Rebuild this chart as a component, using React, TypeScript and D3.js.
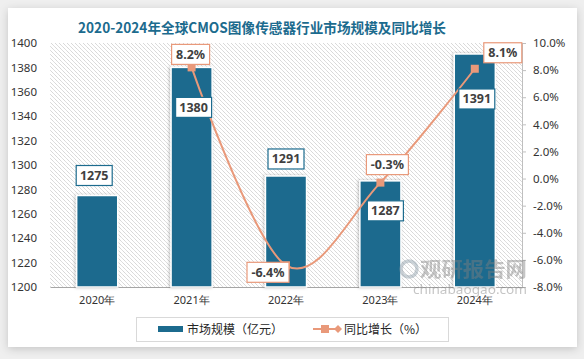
import React, { useEffect, useRef } from 'react'
import * as d3 from 'd3'

const years = ['2020年', '2021年', '2022年', '2023年', '2024年']
const marketSize = [1275, 1380, 1291, 1287, 1391]
const growth: (number | null)[] = [null, 8.2, -6.4, -0.3, 8.1]
const growthLabels = ['', '8.2%', '-6.4%', '-0.3%', '8.1%']
const leftTicks = [1200, 1220, 1240, 1260, 1280, 1300, 1320, 1340, 1360, 1380, 1400]
const rightTicks = [-8, -6, -4, -2, 0, 2, 4, 6, 8, 10]

// label nudges (layout only)
const sizeLabelShift = [
  [-3, -20],
  [2, 40],
  [0, -17],
  [5, 30],
  [2, 45],
]
const growthLabelShift = [
  [0, 0],
  [-1, -13],
  [-18, 7],
  [7, -18],
  [28, -16],
]

const BLUE = '#1c6b8e'
const ORANGE = '#e9997a'

const App: React.FC = () => {
  const svgRef = useRef<SVGSVGElement>(null)

  useEffect(() => {
    if (!svgRef.current) return
    const width = 584
    const height = 359
    const plot = { left: 50, right: 522, top: 43, bottom: 287 }

    const svg = d3.select(svgRef.current)
    svg.selectAll('*').remove()
    svg.attr('width', width).attr('height', height)

    const defs = svg.append('defs')
    const pat = defs
      .append('pattern')
      .attr('id', 'hatch')
      .attr('patternUnits', 'userSpaceOnUse')
      .attr('width', 4)
      .attr('height', 4)
    pat
      .append('path')
      .attr('d', 'M-1,-1 l2,2 M0,0 l4,4 M3,3 l2,2')
      .attr('stroke', '#d6d6d6')
      .attr('stroke-width', 0.8)
    const shadow = defs.append('filter').attr('id', 'cardShadow').attr('x', '-5%').attr('y', '-5%').attr('width', '110%').attr('height', '115%')
    shadow.append('feDropShadow').attr('dx', 0).attr('dy', 2).attr('stdDeviation', 4).attr('flood-color', '#000').attr('flood-opacity', 0.18)
    const barShadow = defs.append('filter').attr('id', 'barShadow').attr('x', '-20%').attr('y', '-10%').attr('width', '140%').attr('height', '120%')
    barShadow.append('feDropShadow').attr('dx', -1).attr('dy', 0).attr('stdDeviation', 1.5).attr('flood-color', '#000').attr('flood-opacity', 0.25)

    // page + card
    svg.append('rect').attr('width', width).attr('height', height).attr('fill', '#efefef')
    svg
      .append('rect')
      .attr('x', 8)
      .attr('y', 8)
      .attr('width', 569)
      .attr('height', 339)
      .attr('fill', '#fff')
      .attr('filter', 'url(#cardShadow)')

    // title
    svg
      .append('text')
      .attr('x', 262)
      .attr('y', 33)
      .attr('text-anchor', 'middle')
      .attr('fill', BLUE)
      .attr('font-family', '"Noto Sans CJK SC", sans-serif')
      .attr('font-weight', 'bold')
      .attr('font-size', 14)
      .attr('textLength', 368)
      .attr('lengthAdjust', 'spacingAndGlyphs')
      .text('2020-2024年全球CMOS图像传感器行业市场规模及同比增长')

    const x = d3.scaleBand<string>().domain(years).range([plot.left, plot.right]).paddingInner(0.565).paddingOuter(0.2825)
    const yLeft = d3.scaleLinear().domain([1200, 1400]).range([plot.bottom, plot.top])
    const yRight = d3.scaleLinear().domain([-8, 10]).range([plot.bottom, plot.top])
    const cx = (i: number) => (x(years[i]) ?? 0) + x.bandwidth() / 2

    // hatched plot area
    svg
      .append('rect')
      .attr('x', plot.left)
      .attr('y', plot.top)
      .attr('width', plot.right - plot.left)
      .attr('height', plot.bottom - plot.top)
      .attr('fill', 'url(#hatch)')

    const font = '"Noto Sans", "DejaVu Sans", sans-serif'

    // left axis
    svg
      .append('g')
      .attr('transform', `translate(${plot.left},0)`)
      .call(d3.axisLeft(yLeft).tickValues(leftTicks).tickSize(0).tickPadding(13).tickFormat((d) => String(d)))
      .call((g) => g.select('.domain').remove())
      .call((g) =>
        g.selectAll('text').attr('fill', '#333').attr('font-size', 11.5).attr('font-family', font),
      )

    // right axis
    svg
      .append('g')
      .attr('transform', `translate(${plot.right},0)`)
      .call(
        d3
          .axisRight(yRight)
          .tickValues(rightTicks)
          .tickSize(4)
          .tickPadding(7)
          .tickSizeOuter(4)
          .tickFormat((d) => `${(d as number).toFixed(1)}%`),
      )
      .call((g) => g.select('.domain').attr('stroke', '#bfbfbf'))
      .call((g) => g.selectAll('.tick line').attr('stroke', '#bfbfbf'))
      .call((g) =>
        g.selectAll('text').attr('fill', '#333').attr('font-size', 11.5).attr('font-family', font),
      )

    // bottom axis
    svg
      .append('g')
      .attr('transform', `translate(0,${plot.bottom})`)
      .call(d3.axisBottom(x).tickSize(0).tickPadding(9))
      .call((g) => g.select('.domain').attr('stroke', '#a6a6a6'))
      .call((g) =>
        g.selectAll('text').attr('fill', '#333').attr('font-size', 11).attr('font-family', font),
      )

    // bars
    svg
      .append('g')
      .selectAll('rect')
      .data(marketSize)
      .join('rect')
      .attr('x', (_, i) => x(years[i]) ?? 0)
      .attr('y', (d) => yLeft(d))
      .attr('width', x.bandwidth())
      .attr('height', (d) => plot.bottom - yLeft(d))
      .attr('fill', BLUE)
      .attr('stroke', '#fff')
      .attr('stroke-width', 1.5)
      .attr('filter', 'url(#barShadow)')

    // growth line
    const pts = growth
      .map((v, i) => ({ v, i }))
      .filter((d) => d.v !== null) as { v: number; i: number }[]
    const line = d3
      .line<{ v: number; i: number }>()
      .x((d) => cx(d.i))
      .y((d) => yRight(d.v))
      .curve(d3.curveCardinal.tension(0))
    svg
      .append('path')
      .attr('d', line(pts))
      .attr('fill', 'none')
      .attr('stroke', ORANGE)
      .attr('stroke-width', 2)
    svg
      .append('g')
      .selectAll('rect')
      .data(pts)
      .join('rect')
      .attr('x', (d) => cx(d.i) - 4)
      .attr('y', (d) => yRight(d.v) - 4)
      .attr('width', 8)
      .attr('height', 8)
      .attr('fill', ORANGE)

    // watermark (under labels)
    const wm = svg.append('g').attr('opacity', 0.45)
    wm.append('circle').attr('cx', 409).attr('cy', 269).attr('r', 8).attr('fill', 'none').attr('stroke', '#8a9aa6').attr('stroke-width', 3.5)
    wm.append('text')
      .attr('x', 420)
      .attr('y', 277)
      .attr('fill', '#7f7f7f')
      .attr('font-weight', 'bold')
      .attr('font-size', 20)
      .attr('font-family', '"Noto Sans CJK SC", sans-serif')
      .attr('textLength', 107)
      .attr('lengthAdjust', 'spacingAndGlyphs')
      .text('观研报告网')
    wm.append('text')
      .attr('x', 413)
      .attr('y', 294)
      .attr('fill', '#7f7f7f')
      .attr('font-size', 13)
      .attr('font-family', font)
      .attr('textLength', 114)
      .attr('lengthAdjust', 'spacingAndGlyphs')
      .text('chinabaogao.com')

    const labelBox = (cxp: number, cyp: number, txt: string, border: string, w: number) => {
      const g = svg.append('g')
      g.append('rect')
        .attr('x', cxp - w / 2)
        .attr('y', cyp - 10)
        .attr('width', w)
        .attr('height', 20)
        .attr('fill', '#fff')
        .attr('stroke', border)
        .attr('stroke-width', 1.2)
      g.append('text')
        .attr('x', cxp)
        .attr('y', cyp + 4.5)
        .attr('text-anchor', 'middle')
        .attr('fill', '#404040')
        .attr('font-weight', 'bold')
        .attr('font-size', 12.5)
        .attr('font-family', font)
        .text(txt)
    }

    marketSize.forEach((v, i) => {
      const [dx, dy] = sizeLabelShift[i]
      labelBox(cx(i) + dx, yLeft(v) + dy, String(v), BLUE, 36)
    })
    pts.forEach((d) => {
      const [dx, dy] = growthLabelShift[d.i]
      labelBox(cx(d.i) + dx, yRight(d.v) + dy, growthLabels[d.i], ORANGE, growthLabels[d.i].length > 4 ? 42 : 38)
    })

    // legend
    const lg = svg.append('g')
    lg.append('rect')
      .attr('x', 136.5)
      .attr('y', 317.5)
      .attr('width', 312)
      .attr('height', 24)
      .attr('fill', '#fff')
      .attr('stroke', '#d9d9d9')
    lg.append('rect').attr('x', 158).attr('y', 326).attr('width', 25).attr('height', 6).attr('fill', BLUE)
    lg.append('text')
      .attr('x', 187)
      .attr('y', 334)
      .attr('fill', '#262626')
      .attr('font-size', 12)
      .attr('font-family', '"Noto Sans CJK SC", sans-serif')
      .text('市场规模（亿元）')
    lg.append('line').attr('x1', 313).attr('x2', 341).attr('y1', 329).attr('y2', 329).attr('stroke', ORANGE).attr('stroke-width', 2)
    lg.append('rect').attr('x', 321).attr('y', 325).attr('width', 8).attr('height', 8).attr('fill', ORANGE)
    lg.append('path').attr('d', 'M338,325 L342,329 L338,333 L334,329 Z').attr('fill', ORANGE)
    lg.append('text')
      .attr('x', 344)
      .attr('y', 334)
      .attr('fill', '#262626')
      .attr('font-size', 12)
      .attr('font-family', '"Noto Sans CJK SC", sans-serif')
      .text('同比增长（%）')
  }, [])

  return (
    <div style={{ position: 'absolute', left: 0, top: 0 }}>
      <svg ref={svgRef} style={{ display: 'block' }}></svg>
    </div>
  )
}

export default App
